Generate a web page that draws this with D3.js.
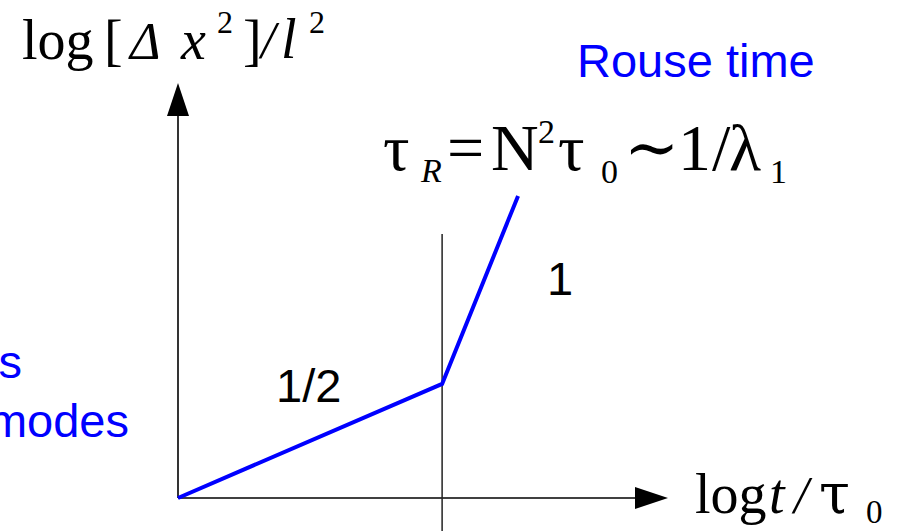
<!DOCTYPE html>
<html>
<head>
<meta charset="utf-8">
<script src="https://cdn.jsdelivr.net/npm/d3@7"></script>
<style>
  html, body { margin: 0; padding: 0; background: #fff; overflow: hidden; }
  svg { display: block; }
  .serif { font-family: "Liberation Serif", "Times New Roman", serif; }
  .sans { font-family: "Liberation Sans", Arial, Helvetica, sans-serif; }
</style>
</head>
<body>
<svg id="chart" width="904" height="531"></svg>
<script>
// Schematic log-log mean-square displacement of a Rouse chain
const logTime = [0, 0.539, 0.694];     // log t/τ0 at start, at τR, at end of curve
const logMSD  = [0, 0.275, 0.728];     // log[Δx²]/l² at the same points
const rouseTime = 0.539;               // position of τR on the time axis
const rouseMarkerSpan = [-0.08, 0.636];// vertical extent of the τR marker
const slopeLabels = ["1/2", "1"];
const regimeLabels = ["s", "modes"];
const titleLabel = "Rouse time";

const svg = d3.select("#chart");

const x = d3.scaleLinear().domain([0, 1]).range([178, 668]);
const y = d3.scaleLinear().domain([0, 1]).range([498, 83]);

// axes
svg.append("line")
  .attr("x1", x(0)).attr("y1", y(0))
  .attr("x2", x(1) - 20).attr("y2", y(0))
  .attr("stroke", "#000").attr("stroke-width", 1.6);
svg.append("line")
  .attr("x1", x(0)).attr("y1", y(0))
  .attr("x2", x(0)).attr("y2", y(1) + 20)
  .attr("stroke", "#000").attr("stroke-width", 1.6);

// arrow heads
svg.append("path")
  .attr("d", `M${x(1)},${y(0)} L${x(1) - 33},${y(0) - 11} L${x(1) - 33},${y(0) + 11} Z`)
  .attr("fill", "#000");
svg.append("path")
  .attr("d", `M${x(0)},${y(1)} L${x(0) - 11},${y(1) + 33} L${x(0) + 11},${y(1) + 33} Z`)
  .attr("fill", "#000");

// τR marker
svg.append("line")
  .attr("x1", x(rouseTime)).attr("x2", x(rouseTime))
  .attr("y1", y(rouseMarkerSpan[1])).attr("y2", y(rouseMarkerSpan[0]))
  .attr("stroke", "#222").attr("stroke-width", 1.5);

// MSD curve
const line = d3.line().x((d, i) => x(logTime[i])).y((d, i) => y(logMSD[i]));
svg.append("path")
  .datum(logTime)
  .attr("d", line)
  .attr("fill", "none")
  .attr("stroke", "#0000ff")
  .attr("stroke-width", 4)
  .attr("stroke-linejoin", "miter");

// math label built from positioned pieces in a single text element
function mathLabel(pieces) {
  const txt = svg.append("text").attr("class", "serif").attr("fill", "#000");
  pieces.forEach(p => {
    const ts = txt.append("tspan")
      .attr("x", p.x).attr("y", p.y)
      .attr("font-size", p.s)
      .text(p.t);
    if (p.i) ts.attr("font-style", "italic");
    if (p.f) ts.style("font-family", p.f);
  });
  return txt;
}

const greekFont = "'DejaVu Serif', serif";

// y-axis label: log[Δx²]/l²
mathLabel([
  { t: "log", x: 22,  y: 59, s: 56 },
  { t: "[",   x: 104, y: 59, s: 56 },
  { t: "Δ",   x: 130, y: 59, s: 52, i: true },
  { t: "x",   x: 181, y: 59, s: 56, i: true },
  { t: "2",   x: 217, y: 33, s: 32 },
  { t: "]",   x: 243, y: 59, s: 56 },
  { t: "/",   x: 261, y: 58, s: 52, i: true },
  { t: "l",   x: 281, y: 58, s: 56, i: true },
  { t: "2",   x: 309, y: 33, s: 32 }
]);

// x-axis label: log t/τ0
mathLabel([
  { t: "log", x: 695, y: 513, s: 56 },
  { t: "t",   x: 769, y: 513, s: 56, i: true },
  { t: "/",   x: 794, y: 513, s: 52, i: true },
  { t: "τ",   x: 819, y: 513, s: 56, f: greekFont },
  { t: "0",   x: 866, y: 523, s: 33 }
]);

// τR = N² τ0 ∼ 1/λ1
mathLabel([
  { t: "τ", x: 383, y: 170, s: 66 },
  { t: "R", x: 421, y: 182, s: 34, i: true },
  { t: "=", x: 447, y: 170, s: 66 },
  { t: "N", x: 491, y: 170, s: 66 },
  { t: "2", x: 538, y: 143, s: 34 },
  { t: "τ", x: 558, y: 170, s: 66 },
  { t: "0", x: 601, y: 183, s: 34 },
  { t: "∼", x: 624, y: 170, s: 66, f: greekFont },
  { t: "1", x: 678, y: 170, s: 66 },
  { t: "/", x: 712, y: 170, s: 66 },
  { t: "λ", x: 729, y: 170, s: 66 },
  { t: "1", x: 770, y: 183, s: 34 }
]);

// plain-text annotations
function label(txt, px, py, opts = {}) {
  return svg.append("text")
    .attr("x", px).attr("y", py)
    .attr("class", "sans")
    .attr("font-size", 47)
    .attr("fill", opts.fill || "#000")
    .attr("text-anchor", opts.anchor || "start")
    .text(txt);
}

label(titleLabel, 577, 77, { fill: "#0000ff" });
label(regimeLabels[0], 22, 378, { fill: "#0000ff", anchor: "end" });
label(regimeLabels[1], 129, 437, { fill: "#0000ff", anchor: "end" });

label(slopeLabels[0], 276, 402);
label(slopeLabels[1], 547, 295);
</script>
</body>
</html>
